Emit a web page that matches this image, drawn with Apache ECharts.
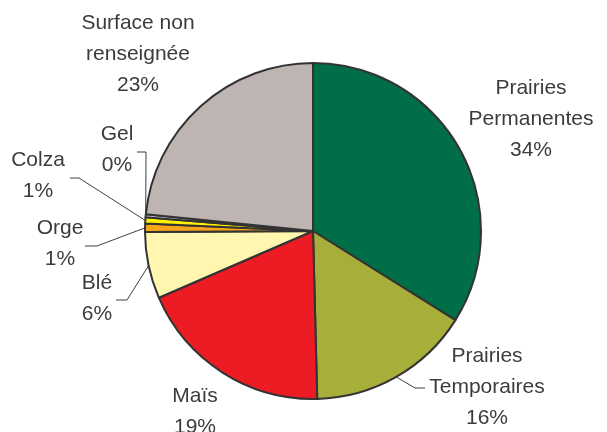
<!DOCTYPE html>
<html>
<head>
<meta charset="utf-8">
<script src="https://cdn.jsdelivr.net/npm/echarts@6/dist/echarts.min.js"></script>
<style>
  html, body { margin: 0; padding: 0; background: #fff; }
  #chart { width: 607px; height: 432px; }
</style>
</head>
<body>
<div id="chart"></div>
<script>
// surfaces (% of total), clockwise from 12 o'clock
var categories = ['Prairies Permanentes', 'Prairies Temporaires', 'Maïs', 'Blé', 'Orge', 'Colza', 'Gel', 'Surface non renseignée'];
var labelTexts = ['Prairies\nPermanentes', 'Prairies\nTemporaires', 'Maïs', 'Blé', 'Orge', 'Colza', 'Gel', 'Surface non\nrenseignée'];
var values = [33.9, 15.7, 18.9, 6.4, 0.8, 0.6, 0.3, 23.4];

var colors = ['#006E46', '#A8AE3A', '#ED1C24', '#FFF6B0', '#F9A51A', '#FFF200', '#C8C4E0', '#BEB4B2'];

// where each label block sits (centre), and the bend points of the leader lines
var labelPos = [[531, 119], [487, 387], [195, 412], [97, 299], [60, 244], [38, 176], [117, 150], [138, 54]];
var leaderBends = {
  1: [[415, 388], [425, 388]],
  3: [[127, 300], [116, 300]],
  4: [[97, 246], [85, 246]],
  5: [[79, 178], [70, 178]],
  6: [[146, 152], [137, 152]]
};

var chart = echarts.init(document.getElementById('chart'));

var data = categories.map(function (name, i) {
  return {
    name: name,
    value: values[i],
    itemStyle: { color: colors[i] },
    labelLine: { show: !!leaderBends[i] }
  };
});

var option = {
  backgroundColor: '#fff',
  animation: false,
  series: [{
    type: 'pie',
    center: [313, 231],
    radius: 168,
    startAngle: 90,
    clockwise: true,
    avoidLabelOverlap: false,
    minShowLabelAngle: 0,
    percentPrecision: 0,
    data: data,
    itemStyle: {
      borderColor: '#333',
      borderWidth: 2
    },
    label: {
      show: true,
      position: 'outside',
      formatter: function (p) {
        return labelTexts[p.dataIndex] + '\n' + p.percent + '%';
      },
      fontFamily: 'Liberation Sans, Arial, sans-serif',
      fontSize: 21,
      lineHeight: 31,
      color: '#3c3c3c',
      align: 'center'
    },
    labelLine: {
      length: 10,
      length2: 10,
      lineStyle: { color: '#404040', width: 1 }
    },
    labelLayout: function (params) {
      var i = params.dataIndex;
      var out = {
        x: labelPos[i][0],
        y: labelPos[i][1],
        align: 'center',
        verticalAlign: 'middle',
        hideOverlap: false
      };
      if (leaderBends[i] && params.labelLinePoints) {
        out.labelLinePoints = [params.labelLinePoints[0]].concat(leaderBends[i]);
      }
      return out;
    },
    emphasis: { disabled: true }
  }]
};

chart.setOption(option);
</script>
</body>
</html>
